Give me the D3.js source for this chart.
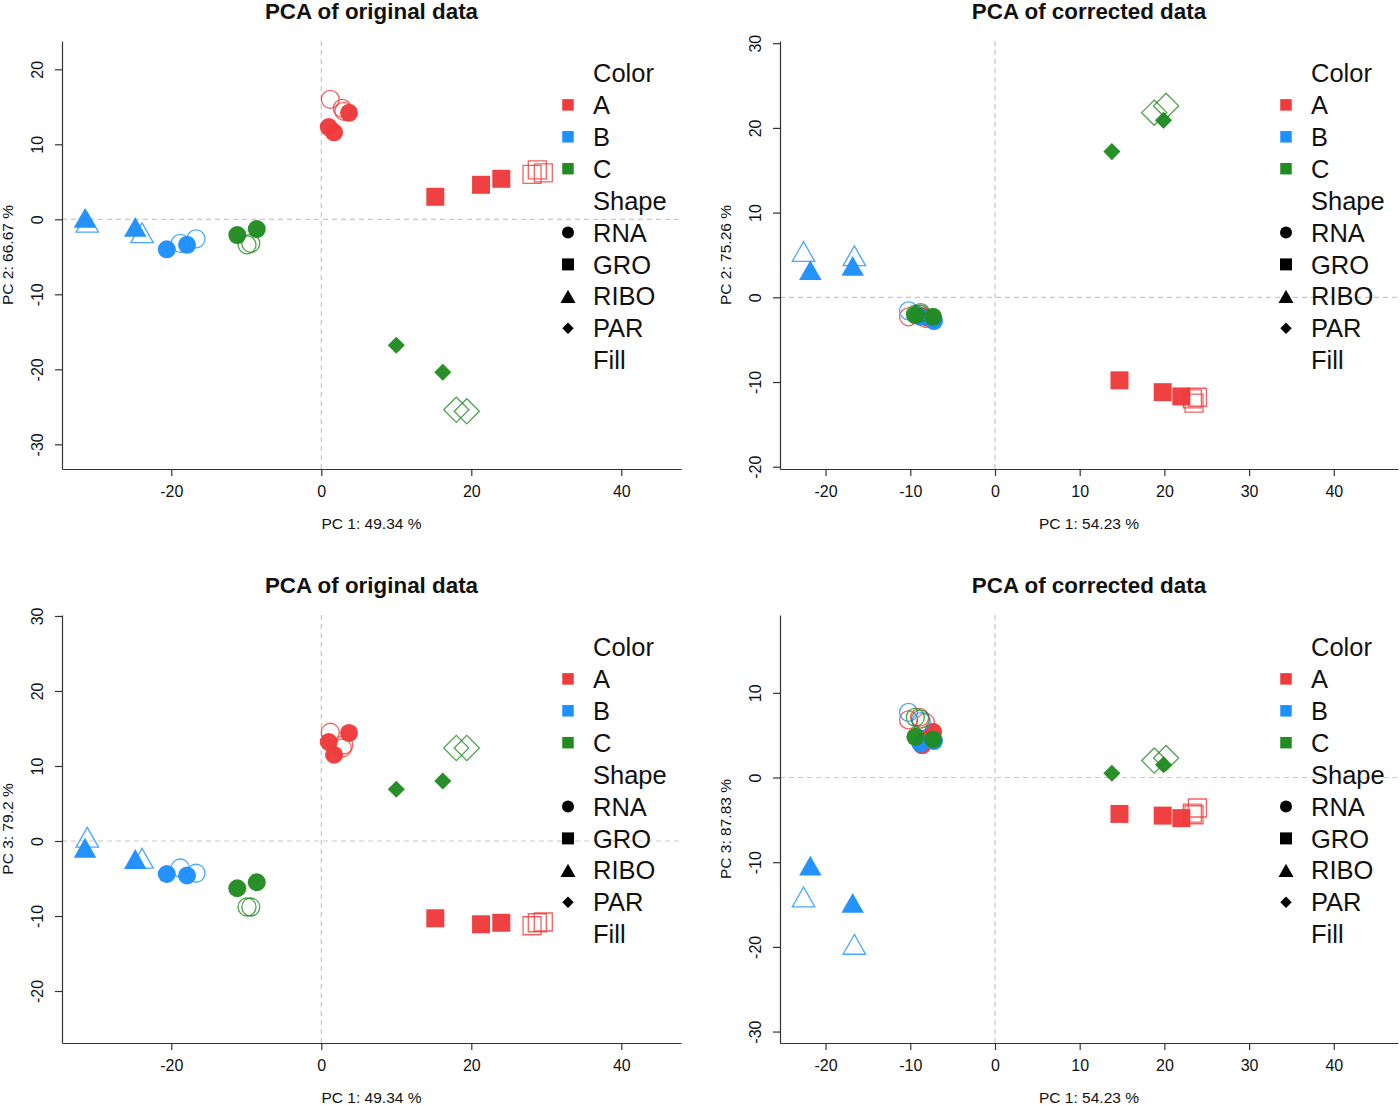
<!DOCTYPE html>
<html><head><meta charset="utf-8">
<script src="https://cdn.jsdelivr.net/npm/d3@7"></script>
<style>body{margin:0;background:#fff}svg{display:block}text{font-family:"Liberation Sans",Arial,Helvetica,sans-serif}</style>
</head><body>
<svg id="c" width="1400" height="1105"></svg>
<script>
// ---- data ----
const sampleColor = ["A","A","A","A","A","A", "A","A","A","A","A","A", "B","B","B","B", "B","B","B","B", "C","C","C","C", "C","C","C","C"];
const sampleShape = ["RNA","RNA","RNA","RNA","RNA","RNA", "GRO","GRO","GRO","GRO","GRO","GRO", "RIBO","RIBO","RIBO","RIBO", "RNA","RNA","RNA","RNA", "RNA","RNA","RNA","RNA", "PAR","PAR","PAR","PAR"];
const sampleFill  = [1,1,1,0,0,0, 1,1,1,0,0,0, 1,1,0,0, 1,1,0,0, 1,1,0,0, 1,1,0,0];

const origPC1 = [3.7,1.0,1.7,1.2,2.8,3.0, 15.2,21.3,24.0,28.1,28.8,29.6, -31.5,-24.8,-31.2,-23.9, -20.6,-17.9,-18.8,-16.7, -11.2,-8.6,-9.9,-9.4, 10.0,16.2,18.0,19.4];
const origPC2 = [14.2,12.3,11.6,16.0,14.8,14.4, 3.0,4.6,5.4,6.0,6.6,6.2, 0.2,-1.0,-0.4,-1.8, -4.0,-3.4,-3.2,-2.6, -2.1,-1.3,-3.4,-3.2, -16.8,-20.4,-25.4,-25.6];
const origPC3 = [14.4,13.2,11.5,14.5,12.4,12.8, -10.3,-11.1,-10.9,-11.3,-10.9,-10.8, -0.9,-2.4,0.5,-2.3, -4.4,-4.6,-3.6,-4.3, -6.3,-5.5,-8.8,-8.8, 6.9,8.0,12.4,12.4];

const corrPC1 = [-7.3,-8.6,-8.0,-10.2,-8.9,-8.2, 14.7,19.8,22.0,23.3,23.9,23.5, -21.8,-16.8,-22.6,-16.6, -7.2,-8.8,-10.2,-8.7, -9.4,-7.3,-9.4,-8.8, 13.8,19.9,18.8,20.2];
const corrPC2 = [-2.6,-2.2,-2.4,-2.3,-2.0,-2.5, -9.8,-11.2,-11.7,-12.0,-11.8,-12.5, 3.2,3.7,5.4,4.9, -2.8,-2.3,-1.6,-2.0, -2.1,-2.3,-2.0,-1.8, 17.2,20.9,21.8,22.6];
const corrPC3 = [5.4,3.8,4.6,6.8,7.1,6.5, -4.3,-4.5,-4.8,-4.2,-3.6,-4.4, -10.4,-14.8,-14.1,-19.7, 4.3,4.0,7.7,6.6, 4.8,4.5,7.1,6.9, 0.5,1.5,2.0,2.3];

const colorLevels = ["A","B","C"];
const colorValues = ["#EE3B3B","#1E90FF","#228B22"];
const shapeLevels = ["RNA","GRO","RIBO","PAR"];
const legendTitles = ["Color","Shape","Fill"];

const titles = ["PCA of original data","PCA of corrected data","PCA of original data","PCA of corrected data"];
const xLabels = ["PC 1: 49.34 %","PC 1: 54.23 %","PC 1: 49.34 %","PC 1: 54.23 %"];
const yLabels = ["PC 2: 66.67 %","PC 2: 75.26 %","PC 3: 79.2 %","PC 3: 87.83 %"];
const xTicks = [[-20,0,20,40],[-20,-10,0,10,20,30,40],[-20,0,20,40],[-20,-10,0,10,20,30,40]];
const yTicks = [[-30,-20,-10,0,10,20],[-20,-10,0,10,20,30],[-20,-10,0,10,20,30],[-30,-20,-10,0,10]];

// ---- layout ----
const svg = d3.select("#c");
const colorScale = d3.scaleOrdinal(colorLevels, colorValues);

const panels = [
  {l:62, r:681, t:41, b:469, xd:[-34.57,47.96], yd:[-33.29,23.77], xs:origPC1, ys:origPC2},
  {l:780, r:1398, t:41, b:469, xd:[-25.38,47.58], yd:[-20.27,30.26], xs:corrPC1, ys:corrPC2},
  {l:62, r:681, t:615, b:1043, xd:[-34.57,47.96], yd:[-26.93,30.13], xs:origPC1, ys:origPC3},
  {l:780, r:1398, t:615, b:1043, xd:[-25.38,47.58], yd:[-31.35,19.19], xs:corrPC1, ys:corrPC3}
];

function symbolPath(shape, filled, s) {
  if (shape === "RNA") {
    const r = s/2;
    return `M${-r},0A${r},${r} 0 1,0 ${r},0A${r},${r} 0 1,0 ${-r},0Z`;
  }
  if (shape === "GRO") {
    const h = s/2;
    return `M${-h},${-h}H${h}V${h}H${-h}Z`;
  }
  if (shape === "RIBO") {
    const w = s*1.25/2, hh = s*1.1/2;
    return `M0,${-hh}L${w},${hh}L${-w},${hh}Z`;
  }
  const d = filled ? s*0.95/2 : s*1.4/2;
  return `M0,${-d}L${d},0L0,${d}L${-d},0Z`;
}

const fmt = d => String(d);

panels.forEach((p, i) => {
  const g = svg.append("g");
  const x = d3.scaleLinear().domain(p.xd).range([p.l, p.r]);
  const y = d3.scaleLinear().domain(p.yd).range([p.b, p.t]);

  g.append("line").attr("x1", x(0)).attr("x2", x(0)).attr("y1", p.t).attr("y2", p.b)
    .attr("stroke", "#c8c8c8").attr("stroke-width", 1.2).attr("stroke-dasharray", "5,4");
  g.append("line").attr("x1", p.l).attr("x2", p.r).attr("y1", y(0)).attr("y2", y(0))
    .attr("stroke", "#c8c8c8").attr("stroke-width", 1.2).attr("stroke-dasharray", "5,4");

  const xa = g.append("g").attr("transform", `translate(0,${p.b})`)
    .call(d3.axisBottom(x).tickValues(xTicks[i]).tickFormat(fmt).tickSize(7).tickSizeOuter(0).tickPadding(6));
  const ya = g.append("g").attr("transform", `translate(${p.l},0)`)
    .call(d3.axisLeft(y).tickValues(yTicks[i]).tickFormat(fmt).tickSize(7).tickSizeOuter(0).tickPadding(6));
  [xa, ya].forEach(a => {
    a.select(".domain").attr("stroke", "#333").attr("stroke-width", 1.2);
    a.selectAll(".tick line").attr("stroke", "#333").attr("stroke-width", 1.2);
    a.selectAll("text").attr("font-size", 16).attr("fill", "#111")
      .attr("font-family", '"Liberation Sans",Arial,sans-serif');
  });
  xa.selectAll("text").attr("dy", "0.95em");
  ya.selectAll(".tick text")
    .attr("text-anchor", "middle").attr("x", null)
    .attr("transform", "translate(-25,0) rotate(-90)").attr("dy", "0.35em");

  const cx = (p.l + p.r) / 2;
  g.append("text").attr("x", cx).attr("y", p.t - 22.5).attr("text-anchor", "middle")
    .attr("font-size", 22.4).attr("font-weight", "bold").attr("fill", "#111").text(titles[i]);
  g.append("text").attr("x", cx).attr("y", p.b + 60).attr("text-anchor", "middle")
    .attr("font-size", 15.5).attr("fill", "#111").text(xLabels[i]);
  g.append("text").attr("transform", `translate(${p.l - 49},${(p.t + p.b) / 2}) rotate(-90)`)
    .attr("text-anchor", "middle").attr("font-size", 15.5).attr("fill", "#111").text(yLabels[i]);

  const idx = d3.range(sampleColor.length);
  g.selectAll("path.pt").data(idx).join("path").attr("class", "pt")
    .attr("transform", k => `translate(${x(p.xs[k])},${y(p.ys[k])})`)
    .attr("d", k => symbolPath(sampleShape[k], sampleFill[k] === 1, 18))
    .attr("fill", k => sampleFill[k] ? colorScale(sampleColor[k]) : "none")
    .attr("fill-opacity", 0.97)
    .attr("stroke", k => sampleFill[k] ? "none" : colorScale(sampleColor[k]))
    .attr("stroke-opacity", 0.8)
    .attr("stroke-width", 1.3);

  const lx = p.l + 506, ly = p.t + 32, step = 31.9;
  const lg = g.append("g");
  const rows = [];
  rows.push({text: legendTitles[0]});
  colorLevels.forEach(c => rows.push({text: c, col: colorScale(c), shape: "GRO", legendSq: true}));
  rows.push({text: legendTitles[1]});
  shapeLevels.forEach(s => rows.push({text: s, col: "#000", shape: s}));
  rows.push({text: legendTitles[2]});
  rows.forEach((r, k) => {
    const yy = ly + k * step;
    lg.append("text").attr("x", lx + 25).attr("y", yy).attr("dy", "0.36em")
      .attr("font-size", 25.5).attr("fill", "#111").text(r.text);
    if (r.shape) {
      lg.append("path").attr("transform", `translate(${lx},${yy})`)
        .attr("d", symbolPath(r.shape, true, r.legendSq ? 11.5 : 12))
        .attr("fill", r.col);
    }
  });
});
</script>
</body></html>
